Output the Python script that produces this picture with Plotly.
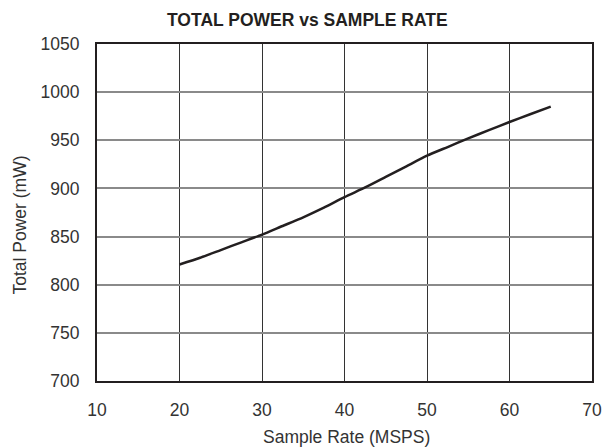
import plotly.graph_objects as go

sample_rate = [20, 22.5, 25, 27.5, 30, 32.5, 35, 37.5, 40, 42.5, 45, 47.5, 50, 52.5, 55, 57.5, 60, 62.5, 65]
total_power = [821, 828, 836, 844, 852, 861, 870, 880, 891, 901, 912, 923, 934, 943, 952, 960.5, 969, 977, 985]

x_ticks = [10, 20, 30, 40, 50, 60, 70]
y_ticks = [700, 750, 800, 850, 900, 950, 1000, 1050]

font = "Liberation Sans, Arial, sans-serif"
ink = "#231f20"

# page has an 8px body margin; figure sized so it fills the 614x447 window
W, H = 606, 439
L, R, T, B = 89, 22, 36, 66
pw, ph = W - L - R, H - T - B

def px(xf):  # figure x pixel -> paper
    return (xf - L) / pw

def py(yf):  # figure y pixel -> paper
    return (H - B - yf) / ph

fig = go.Figure()
fig.add_trace(go.Scatter(x=sample_rate, y=total_power, mode="lines",
                         line=dict(color=ink, width=2.5, shape="spline", smoothing=0.6),
                         showlegend=False))

fig.update_layout(
    width=W, height=H,
    margin=dict(l=L, r=R, t=T, b=B),
    paper_bgcolor="white", plot_bgcolor="white",
    font=dict(family=font, color=ink),
    annotations=[
        dict(text="<b>TOTAL POWER vs SAMPLE RATE</b>", xref="paper", yref="paper",
             x=px(307 - 8), y=py(20 - 8), xanchor="center", yanchor="middle",
             showarrow=False, font=dict(size=17.5, color=ink, family=font)),
        dict(text="Sample Rate (MSPS)", xref="paper", yref="paper",
             x=px(346.5 - 8), y=py(436.5 - 8), xanchor="center", yanchor="middle",
             showarrow=False, font=dict(size=17.5, color="#333333", family=font)),
        dict(text="Total Power (mW)", xref="paper", yref="paper", textangle=-90,
             x=px(19.5 - 8), y=py(225 - 8), xanchor="center", yanchor="middle",
             showarrow=False, font=dict(size=17.5, color="#333333", family=font)),
    ],
)
fig.update_xaxes(range=[10, 70], tickvals=x_ticks, ticks="", showgrid=True,
                 gridcolor="#333333", gridwidth=1, zeroline=False,
                 showline=True, linecolor=ink, linewidth=2, mirror=True,
                 tickfont=dict(size=17.5, color="#333333"), ticklabelstandoff=12)
fig.update_yaxes(range=[700, 1050], tickvals=y_ticks, ticks="", showgrid=True,
                 gridcolor="#8a8a8a", gridwidth=1.5, zeroline=False,
                 showline=True, linecolor=ink, linewidth=2, mirror=True,
                 tickfont=dict(size=17.5, color="#333333"), ticklabelstandoff=12)

fig.write_html("out.html")
